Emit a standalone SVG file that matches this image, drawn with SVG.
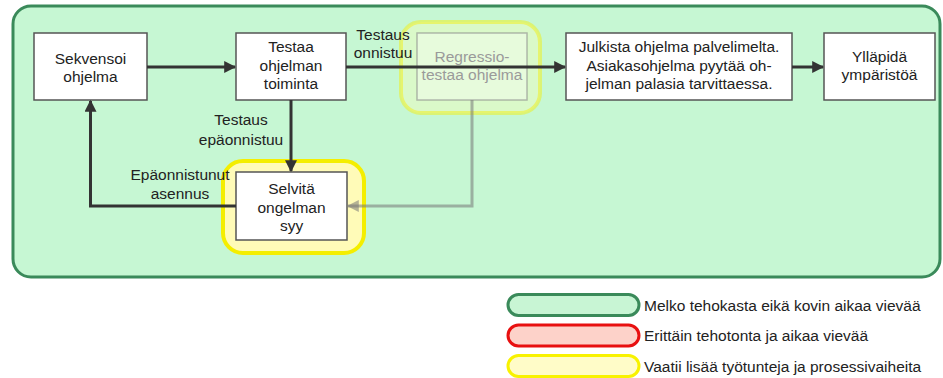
<svg xmlns="http://www.w3.org/2000/svg" width="943" height="378" viewBox="0 0 943 378">
  <defs>
    <style>
      text { font-family: "Liberation Sans", Arial, sans-serif; font-size: 15.5px; fill: #222; }
      .mid { text-anchor: middle; }
      .box { fill: #ffffff; stroke: #555; stroke-width: 1.5; }
      .ghost { fill: #ffffff; fill-opacity: 0.35; stroke: #8a8a8a; stroke-opacity: 0.6; stroke-width: 1.5; }
      .ghost-text { fill: #9a9a9a; }
      .edge { fill: none; stroke: #333; stroke-width: 3; }
      .edge-ghost { fill: none; stroke: #777; stroke-opacity: 0.55; stroke-width: 3; }
      .halo { fill: #fffbb8; stroke: #f4ee00; stroke-width: 4; }
      .halo-faint { fill: #fffbb8; fill-opacity: 0.35; stroke: #f4ee00; stroke-opacity: 0.45; stroke-width: 4; }
    </style>
    <marker id="arrow" viewBox="0 0 10 10" refX="9" refY="5" markerWidth="4" markerHeight="4" orient="auto" markerUnits="strokeWidth">
      <path d="M0,0 L10,5 L0,10 z" fill="#333"/>
    </marker>
    <marker id="arrow-ghost" viewBox="0 0 10 10" refX="9" refY="5" markerWidth="4" markerHeight="4" orient="auto" markerUnits="strokeWidth">
      <path d="M0,0 L10,5 L0,10 z" fill="#777" fill-opacity="0.55"/>
    </marker>
  </defs>

  <!-- background -->
  <rect x="0" y="0" width="943" height="378" fill="#ffffff"/>

  <!-- process area -->
  <rect id="area" x="13" y="6" width="927" height="271" rx="18" ry="18" fill="#c6f7d3" stroke="#3a8a5a" stroke-width="3"/>

  <!-- highlight halos -->
  <rect id="halo-regressio" x="401" y="22" width="139" height="91" rx="20" ry="20" class="halo-faint"/>
  <rect id="halo-selvita" x="223" y="161" width="141" height="92" rx="20" ry="20" class="halo"/>

  <!-- nodes -->
  <g id="node-sekvensoi">
    <rect x="34" y="33" width="113" height="67" class="box"/>
    <text x="90.5" y="64" class="mid">Sekvensoi</text>
    <text x="90.5" y="82" class="mid">ohjelma</text>
  </g>
  <g id="node-testaa">
    <rect x="236" y="33" width="110" height="67" class="box"/>
    <text x="291" y="52" class="mid">Testaa</text>
    <text x="291" y="70.5" class="mid">ohjelman</text>
    <text x="291" y="89" class="mid">toiminta</text>
  </g>
  <g id="node-regressio">
    <rect x="417" y="33" width="110" height="67" class="ghost"/>
    <text x="472" y="62" class="mid ghost-text">Regressio-</text>
    <text x="472" y="80" class="mid ghost-text">testaa ohjelma</text>
  </g>
  <g id="node-julkista">
    <rect x="566" y="33" width="226" height="67" class="box"/>
    <text x="679" y="52" class="mid">Julkista ohjelma palvelimelta.</text>
    <text x="679" y="70.5" class="mid">Asiakasohjelma pyytää oh-</text>
    <text x="679" y="89" class="mid">jelman palasia tarvittaessa.</text>
  </g>
  <g id="node-yllapida">
    <rect x="824" y="33" width="111" height="67" class="box"/>
    <text x="879.5" y="62" class="mid">Ylläpidä</text>
    <text x="879.5" y="80" class="mid">ympäristöä</text>
  </g>
  <g id="node-selvita">
    <rect x="236" y="172" width="111" height="68" class="box"/>
    <text x="291.5" y="194" class="mid">Selvitä</text>
    <text x="291.5" y="212.5" class="mid">ongelman</text>
    <text x="291.5" y="231" class="mid">syy</text>
  </g>

  <!-- connectors -->
  <g id="connectors">
    <path d="M147,67 H235" class="edge" marker-end="url(#arrow)"/>
    <path d="M346,67 H565" class="edge" marker-end="url(#arrow)"/>
    <path d="M792,67 H823" class="edge" marker-end="url(#arrow)"/>
    <path d="M291,100 V171" class="edge" marker-end="url(#arrow)"/>
    <path d="M236,206 H90.5 V101" class="edge" marker-end="url(#arrow)"/>
    <path d="M472,100 V206 H348" class="edge-ghost" marker-end="url(#arrow-ghost)"/>
    <text x="383" y="40" class="mid">Testaus</text>
    <text x="383" y="58" class="mid">onnistuu</text>
    <text x="241" y="125" class="mid">Testaus</text>
    <text x="241" y="144.5" class="mid">epäonnistuu</text>
    <text x="180" y="180" class="mid">Epäonnistunut</text>
    <text x="180" y="198.5" class="mid">asennus</text>
  </g>

  <!-- legend -->
  <g id="legend">
    <rect x="508" y="294.5" width="131" height="21" rx="10.5" ry="10.5" fill="#c8f5d4" stroke="#3a8a5a" stroke-width="3"/>
    <text x="644" y="310.5">Melko tehokasta eikä kovin aikaa vievää</text>
    <rect x="508" y="325" width="131" height="21" rx="10.5" ry="10.5" fill="#fdd2c9" stroke="#e81010" stroke-width="3"/>
    <text x="644" y="341">Erittäin tehotonta ja aikaa vievää</text>
    <rect x="508" y="355.5" width="131" height="21" rx="10.5" ry="10.5" fill="#fffcc8" stroke="#f8f200" stroke-width="3"/>
    <text x="644" y="371.5">Vaatii lisää työtunteja ja prosessivaiheita</text>
  </g>
</svg>
